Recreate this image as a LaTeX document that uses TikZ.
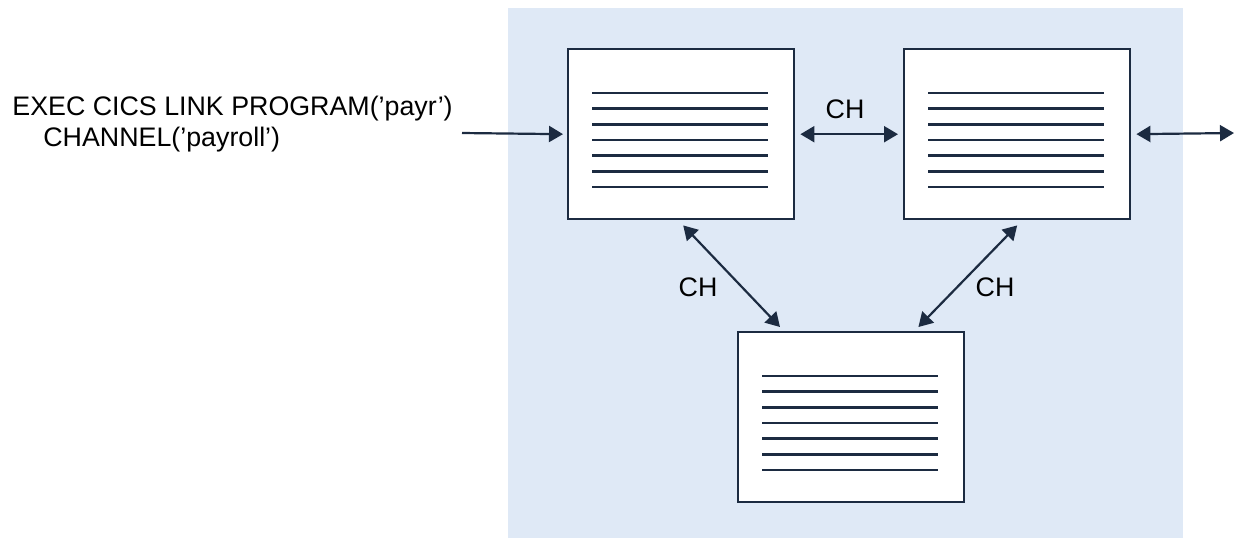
\documentclass[tikz,border=0pt]{standalone}
\usepackage{fontspec}
\setmainfont{Liberation Sans}
\usetikzlibrary{arrows.meta,calc}
\definecolor{navy}{HTML}{1C2B41}
\definecolor{panel}{HTML}{DFE9F6}
\tikzset{
	prog/.style={draw=navy, line width=1.2pt, fill=white, minimum width=113pt, minimum height=85pt, inner sep=0pt, anchor=north west},
	rule/.style={navy, line width=1.2pt},
	link/.style={navy, line width=1.1pt, -{Triangle[length=7pt,width=8pt]}},
	dbl/.style={link, {Triangle[length=7pt,width=8pt]}-{Triangle[length=7pt,width=8pt]}},
	lbl/.style={font=\fontsize{13.4}{15}\selectfont, anchor=base, inner sep=0pt}
}
\begin{document}
\begin{tikzpicture}[x=0.5pt,y=-0.5pt]
			\useasboundingbox (0,0) rectangle (1238,538);
			\fill[panel] (508,8) rectangle (1183,538);
			\node[prog] (p1) at (567,48) {};
			\node[prog] (p2) at (903,48) {};
			\node[prog] (p3) at (737,331) {};
			\foreach \p in {p1,p2,p3}
				\foreach \i in {0,...,6}
					\draw[rule] ($(\p.north west)+(25,45+15.67*\i)$) -- ++(176,0);
			\node[lbl, anchor=base west] (call) at (12,115) {EXEC CICS LINK PROGRAM(’payr’)};
			\node[lbl, anchor=base west] (chan) at (43,146) {CHANNEL(’payroll’)};
			\coordinate (in) at (462,133);
			\coordinate (out) at (1234,133);
			\draw[link, shorten >=2pt] (in) -- (p1.west);
			\draw[dbl, shorten <=2.5pt, shorten >=2.5pt] (p1.east) -- (p2.west);
			\draw[dbl, shorten <=2.5pt] (p2.east) -- (out);
			\draw[dbl] ($(p1.south)+(2,5)$) -- ($(p3.north west)+(43,-4)$);
			\draw[dbl] ($(p2.south)+(0,5)$) -- ($(p3.north east)+(-47,-4)$);
			\node[lbl] (ch1) at (845,118) {CH};
			\node[lbl] (ch2) at (698,296) {CH};
			\node[lbl] (ch3) at (995,296) {CH};
\end{tikzpicture}
\end{document}
